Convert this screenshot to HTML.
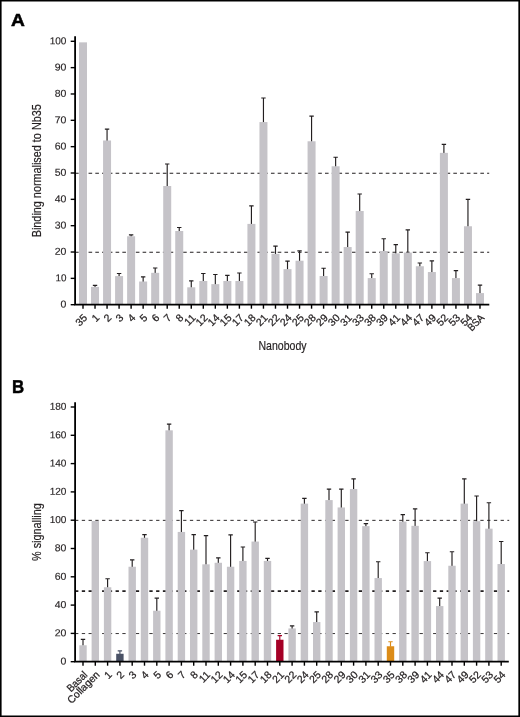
<!DOCTYPE html>
<html lang="en"><head><meta charset="utf-8"><title>Figure</title>
<style>html,body{margin:0;padding:0;background:#fff}svg{display:block}</style></head>
<body>
<svg width="520" height="717" viewBox="0 0 520 717" font-family="'Liberation Sans', sans-serif" fill="#231f20">
<rect x="0" y="0" width="520" height="717" fill="#fff"/>
<path d="M0 0H520V717H0Z M1.6 1.6V715.4H518.35V1.6Z" fill="#000" fill-rule="evenodd"/>
<text transform="translate(11.0 26.05) rotate(0.03)" font-size="17.6" font-weight="bold" fill="#000" stroke="#000" stroke-width="0.5" textLength="13.88" lengthAdjust="spacingAndGlyphs">A</text>
<text transform="translate(12.1 392.7) rotate(0.03)" font-size="18.7" font-weight="bold" fill="#000" stroke="#000" stroke-width="0.5" textLength="12.16" lengthAdjust="spacingAndGlyphs">B</text>
<line x1="75.05" x2="489.2" y1="173.25" y2="173.25" stroke="#231f20" stroke-width="1.1" stroke-dasharray="3.6 3.155"/>
<line x1="75.05" x2="489.2" y1="252.27" y2="252.27" stroke="#231f20" stroke-width="1.1" stroke-dasharray="3.6 3.155"/>
<rect x="79" y="42.35" width="8" height="262.35" fill="#c5c3c8"/>
<path d="M95.03 287.4V284.93M92.83 285.33H97.23" stroke="#231f20" stroke-width="1.15" fill="none"/>
<rect x="91.03" y="286.9" width="8" height="17.8" fill="#c5c3c8"/>
<path d="M107.06 140.99V128.65M104.86 129.05H109.26" stroke="#231f20" stroke-width="1.15" fill="none"/>
<rect x="103.06" y="140.49" width="8" height="164.21" fill="#c5c3c8"/>
<path d="M119.09 276.59V273.09M116.89 273.49H121.29" stroke="#231f20" stroke-width="1.15" fill="none"/>
<rect x="115.09" y="276.09" width="8" height="28.61" fill="#c5c3c8"/>
<path d="M131.12 236.76V234.42M128.92 234.82H133.32" stroke="#231f20" stroke-width="1.15" fill="none"/>
<rect x="127.12" y="236.26" width="8" height="68.44" fill="#c5c3c8"/>
<path d="M143.15 282.01V276.51M140.95 276.91H145.35" stroke="#231f20" stroke-width="1.15" fill="none"/>
<rect x="139.15" y="281.51" width="8" height="23.19" fill="#c5c3c8"/>
<path d="M155.18 273.33V267.57M152.98 267.97H157.38" stroke="#231f20" stroke-width="1.15" fill="none"/>
<rect x="151.18" y="272.83" width="8" height="31.87" fill="#c5c3c8"/>
<path d="M167.21 186.5V163.64M165.01 164.04H169.41" stroke="#231f20" stroke-width="1.15" fill="none"/>
<rect x="163.21" y="186" width="8" height="118.69" fill="#c5c3c8"/>
<path d="M179.24 231.5V227.05M177.04 227.45H181.44" stroke="#231f20" stroke-width="1.15" fill="none"/>
<rect x="175.24" y="231" width="8" height="73.7" fill="#c5c3c8"/>
<path d="M191.27 287.8V280.46M189.07 280.86H193.47" stroke="#231f20" stroke-width="1.15" fill="none"/>
<rect x="187.27" y="287.3" width="8" height="17.4" fill="#c5c3c8"/>
<path d="M203.3 281.48V273.09M201.1 273.49H205.5" stroke="#231f20" stroke-width="1.15" fill="none"/>
<rect x="199.3" y="280.98" width="8" height="23.72" fill="#c5c3c8"/>
<path d="M215.33 284.64V274.14M213.13 274.54H217.53" stroke="#231f20" stroke-width="1.15" fill="none"/>
<rect x="211.33" y="284.14" width="8" height="20.56" fill="#c5c3c8"/>
<path d="M227.36 281.48V274.93M225.16 275.33H229.56" stroke="#231f20" stroke-width="1.15" fill="none"/>
<rect x="223.36" y="280.98" width="8" height="23.72" fill="#c5c3c8"/>
<path d="M239.39 281.48V272.56M237.19 272.96H241.59" stroke="#231f20" stroke-width="1.15" fill="none"/>
<rect x="235.39" y="280.98" width="8" height="23.72" fill="#c5c3c8"/>
<path d="M251.42 224.39V205.47M249.22 205.87H253.62" stroke="#231f20" stroke-width="1.15" fill="none"/>
<rect x="247.42" y="223.89" width="8" height="80.81" fill="#c5c3c8"/>
<path d="M263.45 122.57V97.6M261.25 98H265.65" stroke="#231f20" stroke-width="1.15" fill="none"/>
<rect x="259.45" y="122.07" width="8" height="182.63" fill="#c5c3c8"/>
<path d="M275.48 254.38V245.73M273.28 246.13H277.68" stroke="#231f20" stroke-width="1.15" fill="none"/>
<rect x="271.48" y="253.88" width="8" height="50.82" fill="#c5c3c8"/>
<path d="M287.51 269.64V260.73M285.31 261.13H289.71" stroke="#231f20" stroke-width="1.15" fill="none"/>
<rect x="283.51" y="269.14" width="8" height="35.56" fill="#c5c3c8"/>
<path d="M299.54 261.23V250.46M297.34 250.86H301.74" stroke="#231f20" stroke-width="1.15" fill="none"/>
<rect x="295.54" y="260.73" width="8" height="43.97" fill="#c5c3c8"/>
<path d="M311.57 141.78V115.76M309.37 116.16H313.77" stroke="#231f20" stroke-width="1.15" fill="none"/>
<rect x="307.57" y="141.28" width="8" height="163.42" fill="#c5c3c8"/>
<path d="M323.6 276.49V267.83M321.4 268.23H325.8" stroke="#231f20" stroke-width="1.15" fill="none"/>
<rect x="319.6" y="275.99" width="8" height="28.71" fill="#c5c3c8"/>
<path d="M335.63 166.77V156.8M333.43 157.2H337.83" stroke="#231f20" stroke-width="1.15" fill="none"/>
<rect x="331.63" y="166.27" width="8" height="138.43" fill="#c5c3c8"/>
<path d="M347.66 247.54V231.78M345.46 232.18H349.86" stroke="#231f20" stroke-width="1.15" fill="none"/>
<rect x="343.66" y="247.04" width="8" height="57.66" fill="#c5c3c8"/>
<path d="M359.69 211.5V193.63M357.49 194.03H361.89" stroke="#231f20" stroke-width="1.15" fill="none"/>
<rect x="355.69" y="211" width="8" height="93.7" fill="#c5c3c8"/>
<path d="M371.72 278.59V273.35M369.52 273.75H373.92" stroke="#231f20" stroke-width="1.15" fill="none"/>
<rect x="367.72" y="278.09" width="8" height="26.61" fill="#c5c3c8"/>
<path d="M383.75 251.49V238.36M381.55 238.76H385.95" stroke="#231f20" stroke-width="1.15" fill="none"/>
<rect x="379.75" y="250.99" width="8" height="53.71" fill="#c5c3c8"/>
<path d="M395.78 253.86V244.15M393.58 244.55H397.98" stroke="#231f20" stroke-width="1.15" fill="none"/>
<rect x="391.78" y="253.36" width="8" height="51.34" fill="#c5c3c8"/>
<path d="M407.81 253.07V229.42M405.61 229.82H410.01" stroke="#231f20" stroke-width="1.15" fill="none"/>
<rect x="403.81" y="252.57" width="8" height="52.13" fill="#c5c3c8"/>
<path d="M419.84 266.75V262.57M417.64 262.97H422.04" stroke="#231f20" stroke-width="1.15" fill="none"/>
<rect x="415.84" y="266.25" width="8" height="38.45" fill="#c5c3c8"/>
<path d="M431.87 272.54V260.46M429.67 260.86H434.07" stroke="#231f20" stroke-width="1.15" fill="none"/>
<rect x="427.87" y="272.04" width="8" height="32.66" fill="#c5c3c8"/>
<path d="M443.9 153.35V143.91M441.7 144.31H446.1" stroke="#231f20" stroke-width="1.15" fill="none"/>
<rect x="439.9" y="152.85" width="8" height="151.85" fill="#c5c3c8"/>
<path d="M455.93 278.59V270.2M453.73 270.6H458.13" stroke="#231f20" stroke-width="1.15" fill="none"/>
<rect x="451.93" y="278.09" width="8" height="26.61" fill="#c5c3c8"/>
<path d="M467.96 226.76V198.9M465.76 199.3H470.16" stroke="#231f20" stroke-width="1.15" fill="none"/>
<rect x="463.96" y="226.26" width="8" height="78.44" fill="#c5c3c8"/>
<path d="M479.99 293.59V284.67M477.79 285.07H482.19" stroke="#231f20" stroke-width="1.15" fill="none"/>
<rect x="475.99" y="293.09" width="8" height="11.61" fill="#c5c3c8"/>
<path d="M75.1 36.3V304.7H489.3" stroke="#000" stroke-width="1.8" fill="none"/>
<line x1="70.7" x2="75" y1="304.7" y2="304.7" stroke="#000" stroke-width="1.4"/>
<text transform="translate(66.4 307.55) rotate(0.03)" font-size="10" text-anchor="end" textLength="5.84" lengthAdjust="spacingAndGlyphs" stroke="#231f20" stroke-width="0.15">0</text>
<line x1="70.7" x2="75" y1="278.36" y2="278.36" stroke="#000" stroke-width="1.4"/>
<text transform="translate(66.4 281.21) rotate(0.03)" font-size="10" text-anchor="end" textLength="10.96" lengthAdjust="spacingAndGlyphs" stroke="#231f20" stroke-width="0.15">10</text>
<line x1="70.7" x2="75" y1="252.02" y2="252.02" stroke="#000" stroke-width="1.4"/>
<text transform="translate(66.4 254.87) rotate(0.03)" font-size="10" text-anchor="end" textLength="11.68" lengthAdjust="spacingAndGlyphs" stroke="#231f20" stroke-width="0.15">20</text>
<line x1="70.7" x2="75" y1="225.68" y2="225.68" stroke="#000" stroke-width="1.4"/>
<text transform="translate(66.4 228.53) rotate(0.03)" font-size="10" text-anchor="end" textLength="11.68" lengthAdjust="spacingAndGlyphs" stroke="#231f20" stroke-width="0.15">30</text>
<line x1="70.7" x2="75" y1="199.34" y2="199.34" stroke="#000" stroke-width="1.4"/>
<text transform="translate(66.4 202.19) rotate(0.03)" font-size="10" text-anchor="end" textLength="11.68" lengthAdjust="spacingAndGlyphs" stroke="#231f20" stroke-width="0.15">40</text>
<line x1="70.7" x2="75" y1="173" y2="173" stroke="#000" stroke-width="1.4"/>
<text transform="translate(66.4 175.85) rotate(0.03)" font-size="10" text-anchor="end" textLength="11.68" lengthAdjust="spacingAndGlyphs" stroke="#231f20" stroke-width="0.15">50</text>
<line x1="70.7" x2="75" y1="146.66" y2="146.66" stroke="#000" stroke-width="1.4"/>
<text transform="translate(66.4 149.51) rotate(0.03)" font-size="10" text-anchor="end" textLength="11.68" lengthAdjust="spacingAndGlyphs" stroke="#231f20" stroke-width="0.15">60</text>
<line x1="70.7" x2="75" y1="120.32" y2="120.32" stroke="#000" stroke-width="1.4"/>
<text transform="translate(66.4 123.17) rotate(0.03)" font-size="10" text-anchor="end" textLength="11.68" lengthAdjust="spacingAndGlyphs" stroke="#231f20" stroke-width="0.15">70</text>
<line x1="70.7" x2="75" y1="93.98" y2="93.98" stroke="#000" stroke-width="1.4"/>
<text transform="translate(66.4 96.83) rotate(0.03)" font-size="10" text-anchor="end" textLength="11.68" lengthAdjust="spacingAndGlyphs" stroke="#231f20" stroke-width="0.15">80</text>
<line x1="70.7" x2="75" y1="67.64" y2="67.64" stroke="#000" stroke-width="1.4"/>
<text transform="translate(66.4 70.49) rotate(0.03)" font-size="10" text-anchor="end" textLength="11.68" lengthAdjust="spacingAndGlyphs" stroke="#231f20" stroke-width="0.15">90</text>
<line x1="70.7" x2="75" y1="41.3" y2="41.3" stroke="#000" stroke-width="1.4"/>
<text transform="translate(66.4 44.15) rotate(0.03)" font-size="10" text-anchor="end" textLength="16.77" lengthAdjust="spacingAndGlyphs" stroke="#231f20" stroke-width="0.15">100</text>
<line x1="83" x2="83" y1="304.7" y2="308.7" stroke="#000" stroke-width="1.4"/>
<text transform="translate(88 318.45) rotate(-45)" font-size="10.5" text-anchor="end" stroke="#231f20" stroke-width="0.25">35</text>
<line x1="95.03" x2="95.03" y1="304.7" y2="308.7" stroke="#000" stroke-width="1.4"/>
<text transform="translate(100.03 318.45) rotate(-45)" font-size="10.5" text-anchor="end" stroke="#231f20" stroke-width="0.25">1</text>
<line x1="107.06" x2="107.06" y1="304.7" y2="308.7" stroke="#000" stroke-width="1.4"/>
<text transform="translate(112.06 318.45) rotate(-45)" font-size="10.5" text-anchor="end" stroke="#231f20" stroke-width="0.25">2</text>
<line x1="119.09" x2="119.09" y1="304.7" y2="308.7" stroke="#000" stroke-width="1.4"/>
<text transform="translate(124.09 318.45) rotate(-45)" font-size="10.5" text-anchor="end" stroke="#231f20" stroke-width="0.25">3</text>
<line x1="131.12" x2="131.12" y1="304.7" y2="308.7" stroke="#000" stroke-width="1.4"/>
<text transform="translate(136.12 318.45) rotate(-45)" font-size="10.5" text-anchor="end" stroke="#231f20" stroke-width="0.25">4</text>
<line x1="143.15" x2="143.15" y1="304.7" y2="308.7" stroke="#000" stroke-width="1.4"/>
<text transform="translate(148.15 318.45) rotate(-45)" font-size="10.5" text-anchor="end" stroke="#231f20" stroke-width="0.25">5</text>
<line x1="155.18" x2="155.18" y1="304.7" y2="308.7" stroke="#000" stroke-width="1.4"/>
<text transform="translate(160.18 318.45) rotate(-45)" font-size="10.5" text-anchor="end" stroke="#231f20" stroke-width="0.25">6</text>
<line x1="167.21" x2="167.21" y1="304.7" y2="308.7" stroke="#000" stroke-width="1.4"/>
<text transform="translate(172.21 318.45) rotate(-45)" font-size="10.5" text-anchor="end" stroke="#231f20" stroke-width="0.25">7</text>
<line x1="179.24" x2="179.24" y1="304.7" y2="308.7" stroke="#000" stroke-width="1.4"/>
<text transform="translate(184.24 318.45) rotate(-45)" font-size="10.5" text-anchor="end" stroke="#231f20" stroke-width="0.25">8</text>
<line x1="191.27" x2="191.27" y1="304.7" y2="308.7" stroke="#000" stroke-width="1.4"/>
<text transform="translate(196.27 318.45) rotate(-45)" font-size="10.5" text-anchor="end" stroke="#231f20" stroke-width="0.25">11</text>
<line x1="203.3" x2="203.3" y1="304.7" y2="308.7" stroke="#000" stroke-width="1.4"/>
<text transform="translate(208.3 318.45) rotate(-45)" font-size="10.5" text-anchor="end" stroke="#231f20" stroke-width="0.25">12</text>
<line x1="215.33" x2="215.33" y1="304.7" y2="308.7" stroke="#000" stroke-width="1.4"/>
<text transform="translate(220.33 318.45) rotate(-45)" font-size="10.5" text-anchor="end" stroke="#231f20" stroke-width="0.25">14</text>
<line x1="227.36" x2="227.36" y1="304.7" y2="308.7" stroke="#000" stroke-width="1.4"/>
<text transform="translate(232.36 318.45) rotate(-45)" font-size="10.5" text-anchor="end" stroke="#231f20" stroke-width="0.25">15</text>
<line x1="239.39" x2="239.39" y1="304.7" y2="308.7" stroke="#000" stroke-width="1.4"/>
<text transform="translate(244.39 318.45) rotate(-45)" font-size="10.5" text-anchor="end" stroke="#231f20" stroke-width="0.25">17</text>
<line x1="251.42" x2="251.42" y1="304.7" y2="308.7" stroke="#000" stroke-width="1.4"/>
<text transform="translate(256.42 318.45) rotate(-45)" font-size="10.5" text-anchor="end" stroke="#231f20" stroke-width="0.25">18</text>
<line x1="263.45" x2="263.45" y1="304.7" y2="308.7" stroke="#000" stroke-width="1.4"/>
<text transform="translate(268.45 318.45) rotate(-45)" font-size="10.5" text-anchor="end" stroke="#231f20" stroke-width="0.25">21</text>
<line x1="275.48" x2="275.48" y1="304.7" y2="308.7" stroke="#000" stroke-width="1.4"/>
<text transform="translate(280.48 318.45) rotate(-45)" font-size="10.5" text-anchor="end" stroke="#231f20" stroke-width="0.25">22</text>
<line x1="287.51" x2="287.51" y1="304.7" y2="308.7" stroke="#000" stroke-width="1.4"/>
<text transform="translate(292.51 318.45) rotate(-45)" font-size="10.5" text-anchor="end" stroke="#231f20" stroke-width="0.25">24</text>
<line x1="299.54" x2="299.54" y1="304.7" y2="308.7" stroke="#000" stroke-width="1.4"/>
<text transform="translate(304.54 318.45) rotate(-45)" font-size="10.5" text-anchor="end" stroke="#231f20" stroke-width="0.25">25</text>
<line x1="311.57" x2="311.57" y1="304.7" y2="308.7" stroke="#000" stroke-width="1.4"/>
<text transform="translate(316.57 318.45) rotate(-45)" font-size="10.5" text-anchor="end" stroke="#231f20" stroke-width="0.25">28</text>
<line x1="323.6" x2="323.6" y1="304.7" y2="308.7" stroke="#000" stroke-width="1.4"/>
<text transform="translate(328.6 318.45) rotate(-45)" font-size="10.5" text-anchor="end" stroke="#231f20" stroke-width="0.25">29</text>
<line x1="335.63" x2="335.63" y1="304.7" y2="308.7" stroke="#000" stroke-width="1.4"/>
<text transform="translate(340.63 318.45) rotate(-45)" font-size="10.5" text-anchor="end" stroke="#231f20" stroke-width="0.25">30</text>
<line x1="347.66" x2="347.66" y1="304.7" y2="308.7" stroke="#000" stroke-width="1.4"/>
<text transform="translate(352.66 318.45) rotate(-45)" font-size="10.5" text-anchor="end" stroke="#231f20" stroke-width="0.25">31</text>
<line x1="359.69" x2="359.69" y1="304.7" y2="308.7" stroke="#000" stroke-width="1.4"/>
<text transform="translate(364.69 318.45) rotate(-45)" font-size="10.5" text-anchor="end" stroke="#231f20" stroke-width="0.25">33</text>
<line x1="371.72" x2="371.72" y1="304.7" y2="308.7" stroke="#000" stroke-width="1.4"/>
<text transform="translate(376.72 318.45) rotate(-45)" font-size="10.5" text-anchor="end" stroke="#231f20" stroke-width="0.25">38</text>
<line x1="383.75" x2="383.75" y1="304.7" y2="308.7" stroke="#000" stroke-width="1.4"/>
<text transform="translate(388.75 318.45) rotate(-45)" font-size="10.5" text-anchor="end" stroke="#231f20" stroke-width="0.25">39</text>
<line x1="395.78" x2="395.78" y1="304.7" y2="308.7" stroke="#000" stroke-width="1.4"/>
<text transform="translate(400.78 318.45) rotate(-45)" font-size="10.5" text-anchor="end" stroke="#231f20" stroke-width="0.25">41</text>
<line x1="407.81" x2="407.81" y1="304.7" y2="308.7" stroke="#000" stroke-width="1.4"/>
<text transform="translate(412.81 318.45) rotate(-45)" font-size="10.5" text-anchor="end" stroke="#231f20" stroke-width="0.25">44</text>
<line x1="419.84" x2="419.84" y1="304.7" y2="308.7" stroke="#000" stroke-width="1.4"/>
<text transform="translate(424.84 318.45) rotate(-45)" font-size="10.5" text-anchor="end" stroke="#231f20" stroke-width="0.25">47</text>
<line x1="431.87" x2="431.87" y1="304.7" y2="308.7" stroke="#000" stroke-width="1.4"/>
<text transform="translate(436.87 318.45) rotate(-45)" font-size="10.5" text-anchor="end" stroke="#231f20" stroke-width="0.25">49</text>
<line x1="443.9" x2="443.9" y1="304.7" y2="308.7" stroke="#000" stroke-width="1.4"/>
<text transform="translate(448.9 318.45) rotate(-45)" font-size="10.5" text-anchor="end" stroke="#231f20" stroke-width="0.25">52</text>
<line x1="455.93" x2="455.93" y1="304.7" y2="308.7" stroke="#000" stroke-width="1.4"/>
<text transform="translate(460.93 318.45) rotate(-45)" font-size="10.5" text-anchor="end" stroke="#231f20" stroke-width="0.25">53</text>
<line x1="467.96" x2="467.96" y1="304.7" y2="308.7" stroke="#000" stroke-width="1.4"/>
<text transform="translate(472.96 318.45) rotate(-45)" font-size="10.5" text-anchor="end" stroke="#231f20" stroke-width="0.25">54</text>
<line x1="479.99" x2="479.99" y1="304.7" y2="308.7" stroke="#000" stroke-width="1.4"/>
<text transform="translate(484.99 318.45) rotate(-45)" font-size="10.5" text-anchor="end" stroke="#231f20" stroke-width="0.25" textLength="18.9" lengthAdjust="spacingAndGlyphs">BSA</text>
<line x1="75.05" x2="509.2" y1="520.35" y2="520.35" stroke="#231f20" stroke-width="0.95" stroke-dasharray="3.3 3.455"/>
<line x1="75.05" x2="509.2" y1="591.1" y2="591.1" stroke="#231f20" stroke-width="1.9" stroke-dasharray="3.3 3.455"/>
<line x1="75.05" x2="509.2" y1="633.55" y2="633.55" stroke="#231f20" stroke-width="0.9" stroke-dasharray="3.3 3.455"/>
<path d="M83 645.77V639.04M80.8 639.44H85.2" stroke="#231f20" stroke-width="1.15" fill="none"/>
<rect x="79.3" y="645.27" width="7.4" height="16.43" fill="#c5c3c8"/>
<rect x="91.6" y="521.03" width="7.4" height="140.67" fill="#c5c3c8"/>
<path d="M107.6 587.75V578.34M105.4 578.74H109.8" stroke="#231f20" stroke-width="1.15" fill="none"/>
<rect x="103.9" y="587.25" width="7.4" height="74.45" fill="#c5c3c8"/>
<path d="M119.9 654.26V650.5M117.7 650.9H122.1" stroke="#4a5266" stroke-width="1.15" fill="none"/>
<rect x="116.2" y="653.76" width="7.4" height="7.94" fill="#4a5266"/>
<path d="M132.2 567.24V559.52M130 559.92H134.4" stroke="#231f20" stroke-width="1.15" fill="none"/>
<rect x="128.5" y="566.74" width="7.4" height="94.96" fill="#c5c3c8"/>
<path d="M144.5 538.23V534.19M142.3 534.59H146.7" stroke="#231f20" stroke-width="1.15" fill="none"/>
<rect x="140.8" y="537.73" width="7.4" height="123.97" fill="#c5c3c8"/>
<path d="M156.8 611.24V597.73M154.6 598.12H159" stroke="#231f20" stroke-width="1.15" fill="none"/>
<rect x="153.1" y="610.74" width="7.4" height="50.96" fill="#c5c3c8"/>
<path d="M169.1 430.83V423.68M166.9 424.08H171.3" stroke="#231f20" stroke-width="1.15" fill="none"/>
<rect x="165.4" y="430.33" width="7.4" height="231.37" fill="#c5c3c8"/>
<path d="M181.4 532.43V510.28M179.2 510.68H183.6" stroke="#231f20" stroke-width="1.15" fill="none"/>
<rect x="177.7" y="531.93" width="7.4" height="129.77" fill="#c5c3c8"/>
<path d="M193.7 550.12V534.19M191.5 534.59H195.9" stroke="#231f20" stroke-width="1.15" fill="none"/>
<rect x="190" y="549.62" width="7.4" height="112.09" fill="#c5c3c8"/>
<path d="M206 564.83V535.18M203.8 535.58H208.2" stroke="#231f20" stroke-width="1.15" fill="none"/>
<rect x="202.3" y="564.33" width="7.4" height="97.37" fill="#c5c3c8"/>
<path d="M218.3 563.27V557.4M216.1 557.8H220.5" stroke="#231f20" stroke-width="1.15" fill="none"/>
<rect x="214.6" y="562.77" width="7.4" height="98.93" fill="#c5c3c8"/>
<path d="M230.6 567.24V534.47M228.4 534.87H232.8" stroke="#231f20" stroke-width="1.15" fill="none"/>
<rect x="226.9" y="566.74" width="7.4" height="94.96" fill="#c5c3c8"/>
<path d="M242.9 561.43V546.64M240.7 547.04H245.1" stroke="#231f20" stroke-width="1.15" fill="none"/>
<rect x="239.2" y="560.93" width="7.4" height="100.77" fill="#c5c3c8"/>
<path d="M255.2 542.05V521.6M253 522H257.4" stroke="#231f20" stroke-width="1.15" fill="none"/>
<rect x="251.5" y="541.55" width="7.4" height="120.15" fill="#c5c3c8"/>
<path d="M267.5 561.43V557.96M265.3 558.36H269.7" stroke="#231f20" stroke-width="1.15" fill="none"/>
<rect x="263.8" y="560.93" width="7.4" height="100.77" fill="#c5c3c8"/>
<path d="M279.8 640.25V635.22M277.6 635.62H282" stroke="#a50026" stroke-width="1.15" fill="none"/>
<rect x="276.1" y="639.75" width="7.4" height="21.95" fill="#a50026"/>
<path d="M292.1 628.93V625.46M289.9 625.86H294.3" stroke="#231f20" stroke-width="1.15" fill="none"/>
<rect x="288.4" y="628.43" width="7.4" height="33.27" fill="#c5c3c8"/>
<path d="M304.4 504.13V497.97M302.2 498.37H306.6" stroke="#231f20" stroke-width="1.15" fill="none"/>
<rect x="300.7" y="503.63" width="7.4" height="158.07" fill="#c5c3c8"/>
<path d="M316.7 622.56V611.45M314.5 611.85H318.9" stroke="#231f20" stroke-width="1.15" fill="none"/>
<rect x="313" y="622.06" width="7.4" height="39.64" fill="#c5c3c8"/>
<path d="M329 500.59V488.77M326.8 489.17H331.2" stroke="#231f20" stroke-width="1.15" fill="none"/>
<rect x="325.3" y="500.09" width="7.4" height="161.61" fill="#c5c3c8"/>
<path d="M341.3 507.95V488.77M339.1 489.17H343.5" stroke="#231f20" stroke-width="1.15" fill="none"/>
<rect x="337.6" y="507.45" width="7.4" height="154.25" fill="#c5c3c8"/>
<path d="M353.6 489.55V478.44M351.4 478.84H355.8" stroke="#231f20" stroke-width="1.15" fill="none"/>
<rect x="349.9" y="489.05" width="7.4" height="172.65" fill="#c5c3c8"/>
<path d="M365.9 526.63V523.15M363.7 523.55H368.1" stroke="#231f20" stroke-width="1.15" fill="none"/>
<rect x="362.2" y="526.13" width="7.4" height="135.57" fill="#c5c3c8"/>
<path d="M378.2 578.56V561.36M376 561.76H380.4" stroke="#231f20" stroke-width="1.15" fill="none"/>
<rect x="374.5" y="578.06" width="7.4" height="83.64" fill="#c5c3c8"/>
<path d="M390.5 646.76V641.31M388.3 641.71H392.7" stroke="#dc8c18" stroke-width="1.15" fill="none"/>
<rect x="386.8" y="646.26" width="7.4" height="15.44" fill="#dc8c18"/>
<path d="M402.8 522.1V514.24M400.6 514.64H405" stroke="#231f20" stroke-width="1.15" fill="none"/>
<rect x="399.1" y="521.6" width="7.4" height="140.1" fill="#c5c3c8"/>
<path d="M415.1 526.34V508.44M412.9 508.84H417.3" stroke="#231f20" stroke-width="1.15" fill="none"/>
<rect x="411.4" y="525.84" width="7.4" height="135.86" fill="#c5c3c8"/>
<path d="M427.4 561.58V552.3M425.2 552.7H429.6" stroke="#231f20" stroke-width="1.15" fill="none"/>
<rect x="423.7" y="561.08" width="7.4" height="100.62" fill="#c5c3c8"/>
<path d="M439.7 606.57V597.73M437.5 598.12H441.9" stroke="#231f20" stroke-width="1.15" fill="none"/>
<rect x="436" y="606.07" width="7.4" height="55.63" fill="#c5c3c8"/>
<path d="M452 566.25V551.31M449.8 551.71H454.2" stroke="#231f20" stroke-width="1.15" fill="none"/>
<rect x="448.3" y="565.75" width="7.4" height="95.95" fill="#c5c3c8"/>
<path d="M464.3 504.13V478.44M462.1 478.84H466.5" stroke="#231f20" stroke-width="1.15" fill="none"/>
<rect x="460.6" y="503.63" width="7.4" height="158.07" fill="#c5c3c8"/>
<path d="M476.6 521.67V495.56M474.4 495.96H478.8" stroke="#231f20" stroke-width="1.15" fill="none"/>
<rect x="472.9" y="521.17" width="7.4" height="140.53" fill="#c5c3c8"/>
<path d="M488.9 529.17V502.35M486.7 502.75H491.1" stroke="#231f20" stroke-width="1.15" fill="none"/>
<rect x="485.2" y="528.67" width="7.4" height="133.03" fill="#c5c3c8"/>
<path d="M501.2 564.55V541.12M499 541.52H503.4" stroke="#231f20" stroke-width="1.15" fill="none"/>
<rect x="497.5" y="564.05" width="7.4" height="97.65" fill="#c5c3c8"/>
<path d="M75.1 402.2V661.7H508.8" stroke="#000" stroke-width="1.8" fill="none"/>
<line x1="70.7" x2="75" y1="661.7" y2="661.7" stroke="#000" stroke-width="1.4"/>
<text transform="translate(66.4 664.55) rotate(0.03)" font-size="10" text-anchor="end" textLength="5.84" lengthAdjust="spacingAndGlyphs" stroke="#231f20" stroke-width="0.15">0</text>
<line x1="70.7" x2="75" y1="633.4" y2="633.4" stroke="#000" stroke-width="1.4"/>
<text transform="translate(66.4 636.25) rotate(0.03)" font-size="10" text-anchor="end" textLength="11.68" lengthAdjust="spacingAndGlyphs" stroke="#231f20" stroke-width="0.15">20</text>
<line x1="70.7" x2="75" y1="605.1" y2="605.1" stroke="#000" stroke-width="1.4"/>
<text transform="translate(66.4 607.95) rotate(0.03)" font-size="10" text-anchor="end" textLength="11.68" lengthAdjust="spacingAndGlyphs" stroke="#231f20" stroke-width="0.15">40</text>
<line x1="70.7" x2="75" y1="576.8" y2="576.8" stroke="#000" stroke-width="1.4"/>
<text transform="translate(66.4 579.65) rotate(0.03)" font-size="10" text-anchor="end" textLength="11.68" lengthAdjust="spacingAndGlyphs" stroke="#231f20" stroke-width="0.15">60</text>
<line x1="70.7" x2="75" y1="548.5" y2="548.5" stroke="#000" stroke-width="1.4"/>
<text transform="translate(66.4 551.35) rotate(0.03)" font-size="10" text-anchor="end" textLength="11.68" lengthAdjust="spacingAndGlyphs" stroke="#231f20" stroke-width="0.15">80</text>
<line x1="70.7" x2="75" y1="520.2" y2="520.2" stroke="#000" stroke-width="1.4"/>
<text transform="translate(66.4 523.05) rotate(0.03)" font-size="10" text-anchor="end" textLength="16.77" lengthAdjust="spacingAndGlyphs" stroke="#231f20" stroke-width="0.15">100</text>
<line x1="70.7" x2="75" y1="491.9" y2="491.9" stroke="#000" stroke-width="1.4"/>
<text transform="translate(66.4 494.75) rotate(0.03)" font-size="10" text-anchor="end" textLength="16.77" lengthAdjust="spacingAndGlyphs" stroke="#231f20" stroke-width="0.15">120</text>
<line x1="70.7" x2="75" y1="463.6" y2="463.6" stroke="#000" stroke-width="1.4"/>
<text transform="translate(66.4 466.45) rotate(0.03)" font-size="10" text-anchor="end" textLength="16.77" lengthAdjust="spacingAndGlyphs" stroke="#231f20" stroke-width="0.15">140</text>
<line x1="70.7" x2="75" y1="435.3" y2="435.3" stroke="#000" stroke-width="1.4"/>
<text transform="translate(66.4 438.15) rotate(0.03)" font-size="10" text-anchor="end" textLength="16.77" lengthAdjust="spacingAndGlyphs" stroke="#231f20" stroke-width="0.15">160</text>
<line x1="70.7" x2="75" y1="407" y2="407" stroke="#000" stroke-width="1.4"/>
<text transform="translate(66.4 409.85) rotate(0.03)" font-size="10" text-anchor="end" textLength="16.77" lengthAdjust="spacingAndGlyphs" stroke="#231f20" stroke-width="0.15">180</text>
<line x1="83" x2="83" y1="661.7" y2="665.7" stroke="#000" stroke-width="1.4"/>
<text transform="translate(88 675.45) rotate(-45)" font-size="10.5" text-anchor="end" stroke="#231f20" stroke-width="0.25" textLength="24.2" lengthAdjust="spacingAndGlyphs">Basal</text>
<line x1="95.3" x2="95.3" y1="661.7" y2="665.7" stroke="#000" stroke-width="1.4"/>
<text transform="translate(100.3 675.45) rotate(-45)" font-size="10.5" text-anchor="end" stroke="#231f20" stroke-width="0.25" textLength="40.6" lengthAdjust="spacingAndGlyphs">Collagen</text>
<line x1="107.6" x2="107.6" y1="661.7" y2="665.7" stroke="#000" stroke-width="1.4"/>
<text transform="translate(112.6 675.45) rotate(-45)" font-size="10.5" text-anchor="end" stroke="#231f20" stroke-width="0.25">1</text>
<line x1="119.9" x2="119.9" y1="661.7" y2="665.7" stroke="#000" stroke-width="1.4"/>
<text transform="translate(124.9 675.45) rotate(-45)" font-size="10.5" text-anchor="end" stroke="#231f20" stroke-width="0.25">2</text>
<line x1="132.2" x2="132.2" y1="661.7" y2="665.7" stroke="#000" stroke-width="1.4"/>
<text transform="translate(137.2 675.45) rotate(-45)" font-size="10.5" text-anchor="end" stroke="#231f20" stroke-width="0.25">3</text>
<line x1="144.5" x2="144.5" y1="661.7" y2="665.7" stroke="#000" stroke-width="1.4"/>
<text transform="translate(149.5 675.45) rotate(-45)" font-size="10.5" text-anchor="end" stroke="#231f20" stroke-width="0.25">4</text>
<line x1="156.8" x2="156.8" y1="661.7" y2="665.7" stroke="#000" stroke-width="1.4"/>
<text transform="translate(161.8 675.45) rotate(-45)" font-size="10.5" text-anchor="end" stroke="#231f20" stroke-width="0.25">5</text>
<line x1="169.1" x2="169.1" y1="661.7" y2="665.7" stroke="#000" stroke-width="1.4"/>
<text transform="translate(174.1 675.45) rotate(-45)" font-size="10.5" text-anchor="end" stroke="#231f20" stroke-width="0.25">6</text>
<line x1="181.4" x2="181.4" y1="661.7" y2="665.7" stroke="#000" stroke-width="1.4"/>
<text transform="translate(186.4 675.45) rotate(-45)" font-size="10.5" text-anchor="end" stroke="#231f20" stroke-width="0.25">7</text>
<line x1="193.7" x2="193.7" y1="661.7" y2="665.7" stroke="#000" stroke-width="1.4"/>
<text transform="translate(198.7 675.45) rotate(-45)" font-size="10.5" text-anchor="end" stroke="#231f20" stroke-width="0.25">8</text>
<line x1="206" x2="206" y1="661.7" y2="665.7" stroke="#000" stroke-width="1.4"/>
<text transform="translate(211 675.45) rotate(-45)" font-size="10.5" text-anchor="end" stroke="#231f20" stroke-width="0.25">11</text>
<line x1="218.3" x2="218.3" y1="661.7" y2="665.7" stroke="#000" stroke-width="1.4"/>
<text transform="translate(223.3 675.45) rotate(-45)" font-size="10.5" text-anchor="end" stroke="#231f20" stroke-width="0.25">12</text>
<line x1="230.6" x2="230.6" y1="661.7" y2="665.7" stroke="#000" stroke-width="1.4"/>
<text transform="translate(235.6 675.45) rotate(-45)" font-size="10.5" text-anchor="end" stroke="#231f20" stroke-width="0.25">14</text>
<line x1="242.9" x2="242.9" y1="661.7" y2="665.7" stroke="#000" stroke-width="1.4"/>
<text transform="translate(247.9 675.45) rotate(-45)" font-size="10.5" text-anchor="end" stroke="#231f20" stroke-width="0.25">15</text>
<line x1="255.2" x2="255.2" y1="661.7" y2="665.7" stroke="#000" stroke-width="1.4"/>
<text transform="translate(260.2 675.45) rotate(-45)" font-size="10.5" text-anchor="end" stroke="#231f20" stroke-width="0.25">17</text>
<line x1="267.5" x2="267.5" y1="661.7" y2="665.7" stroke="#000" stroke-width="1.4"/>
<text transform="translate(272.5 675.45) rotate(-45)" font-size="10.5" text-anchor="end" stroke="#231f20" stroke-width="0.25">18</text>
<line x1="279.8" x2="279.8" y1="661.7" y2="665.7" stroke="#000" stroke-width="1.4"/>
<text transform="translate(284.8 675.45) rotate(-45)" font-size="10.5" text-anchor="end" stroke="#231f20" stroke-width="0.25">21</text>
<line x1="292.1" x2="292.1" y1="661.7" y2="665.7" stroke="#000" stroke-width="1.4"/>
<text transform="translate(297.1 675.45) rotate(-45)" font-size="10.5" text-anchor="end" stroke="#231f20" stroke-width="0.25">22</text>
<line x1="304.4" x2="304.4" y1="661.7" y2="665.7" stroke="#000" stroke-width="1.4"/>
<text transform="translate(309.4 675.45) rotate(-45)" font-size="10.5" text-anchor="end" stroke="#231f20" stroke-width="0.25">24</text>
<line x1="316.7" x2="316.7" y1="661.7" y2="665.7" stroke="#000" stroke-width="1.4"/>
<text transform="translate(321.7 675.45) rotate(-45)" font-size="10.5" text-anchor="end" stroke="#231f20" stroke-width="0.25">25</text>
<line x1="329" x2="329" y1="661.7" y2="665.7" stroke="#000" stroke-width="1.4"/>
<text transform="translate(334 675.45) rotate(-45)" font-size="10.5" text-anchor="end" stroke="#231f20" stroke-width="0.25">28</text>
<line x1="341.3" x2="341.3" y1="661.7" y2="665.7" stroke="#000" stroke-width="1.4"/>
<text transform="translate(346.3 675.45) rotate(-45)" font-size="10.5" text-anchor="end" stroke="#231f20" stroke-width="0.25">29</text>
<line x1="353.6" x2="353.6" y1="661.7" y2="665.7" stroke="#000" stroke-width="1.4"/>
<text transform="translate(358.6 675.45) rotate(-45)" font-size="10.5" text-anchor="end" stroke="#231f20" stroke-width="0.25">30</text>
<line x1="365.9" x2="365.9" y1="661.7" y2="665.7" stroke="#000" stroke-width="1.4"/>
<text transform="translate(370.9 675.45) rotate(-45)" font-size="10.5" text-anchor="end" stroke="#231f20" stroke-width="0.25">31</text>
<line x1="378.2" x2="378.2" y1="661.7" y2="665.7" stroke="#000" stroke-width="1.4"/>
<text transform="translate(383.2 675.45) rotate(-45)" font-size="10.5" text-anchor="end" stroke="#231f20" stroke-width="0.25">33</text>
<line x1="390.5" x2="390.5" y1="661.7" y2="665.7" stroke="#000" stroke-width="1.4"/>
<text transform="translate(395.5 675.45) rotate(-45)" font-size="10.5" text-anchor="end" stroke="#231f20" stroke-width="0.25">35</text>
<line x1="402.8" x2="402.8" y1="661.7" y2="665.7" stroke="#000" stroke-width="1.4"/>
<text transform="translate(407.8 675.45) rotate(-45)" font-size="10.5" text-anchor="end" stroke="#231f20" stroke-width="0.25">38</text>
<line x1="415.1" x2="415.1" y1="661.7" y2="665.7" stroke="#000" stroke-width="1.4"/>
<text transform="translate(420.1 675.45) rotate(-45)" font-size="10.5" text-anchor="end" stroke="#231f20" stroke-width="0.25">39</text>
<line x1="427.4" x2="427.4" y1="661.7" y2="665.7" stroke="#000" stroke-width="1.4"/>
<text transform="translate(432.4 675.45) rotate(-45)" font-size="10.5" text-anchor="end" stroke="#231f20" stroke-width="0.25">41</text>
<line x1="439.7" x2="439.7" y1="661.7" y2="665.7" stroke="#000" stroke-width="1.4"/>
<text transform="translate(444.7 675.45) rotate(-45)" font-size="10.5" text-anchor="end" stroke="#231f20" stroke-width="0.25">44</text>
<line x1="452" x2="452" y1="661.7" y2="665.7" stroke="#000" stroke-width="1.4"/>
<text transform="translate(457 675.45) rotate(-45)" font-size="10.5" text-anchor="end" stroke="#231f20" stroke-width="0.25">47</text>
<line x1="464.3" x2="464.3" y1="661.7" y2="665.7" stroke="#000" stroke-width="1.4"/>
<text transform="translate(469.3 675.45) rotate(-45)" font-size="10.5" text-anchor="end" stroke="#231f20" stroke-width="0.25">49</text>
<line x1="476.6" x2="476.6" y1="661.7" y2="665.7" stroke="#000" stroke-width="1.4"/>
<text transform="translate(481.6 675.45) rotate(-45)" font-size="10.5" text-anchor="end" stroke="#231f20" stroke-width="0.25">52</text>
<line x1="488.9" x2="488.9" y1="661.7" y2="665.7" stroke="#000" stroke-width="1.4"/>
<text transform="translate(493.9 675.45) rotate(-45)" font-size="10.5" text-anchor="end" stroke="#231f20" stroke-width="0.25">53</text>
<line x1="501.2" x2="501.2" y1="661.7" y2="665.7" stroke="#000" stroke-width="1.4"/>
<text transform="translate(506.2 675.45) rotate(-45)" font-size="10.5" text-anchor="end" stroke="#231f20" stroke-width="0.25">54</text>
<text transform="translate(41 237.3) rotate(-90)" font-size="13.3" stroke="#231f20" stroke-width="0.2" textLength="133.1" lengthAdjust="spacingAndGlyphs">Binding normalised to Nb35</text>
<text transform="translate(41.3 561) rotate(-90)" font-size="13.3" stroke="#231f20" stroke-width="0.2" textLength="57.8" lengthAdjust="spacingAndGlyphs">% signalling</text>
<text x="258.5" y="349.9" font-size="13.3" stroke="#231f20" stroke-width="0.2" textLength="48" lengthAdjust="spacingAndGlyphs">Nanobody</text>
</svg>
</body></html>
